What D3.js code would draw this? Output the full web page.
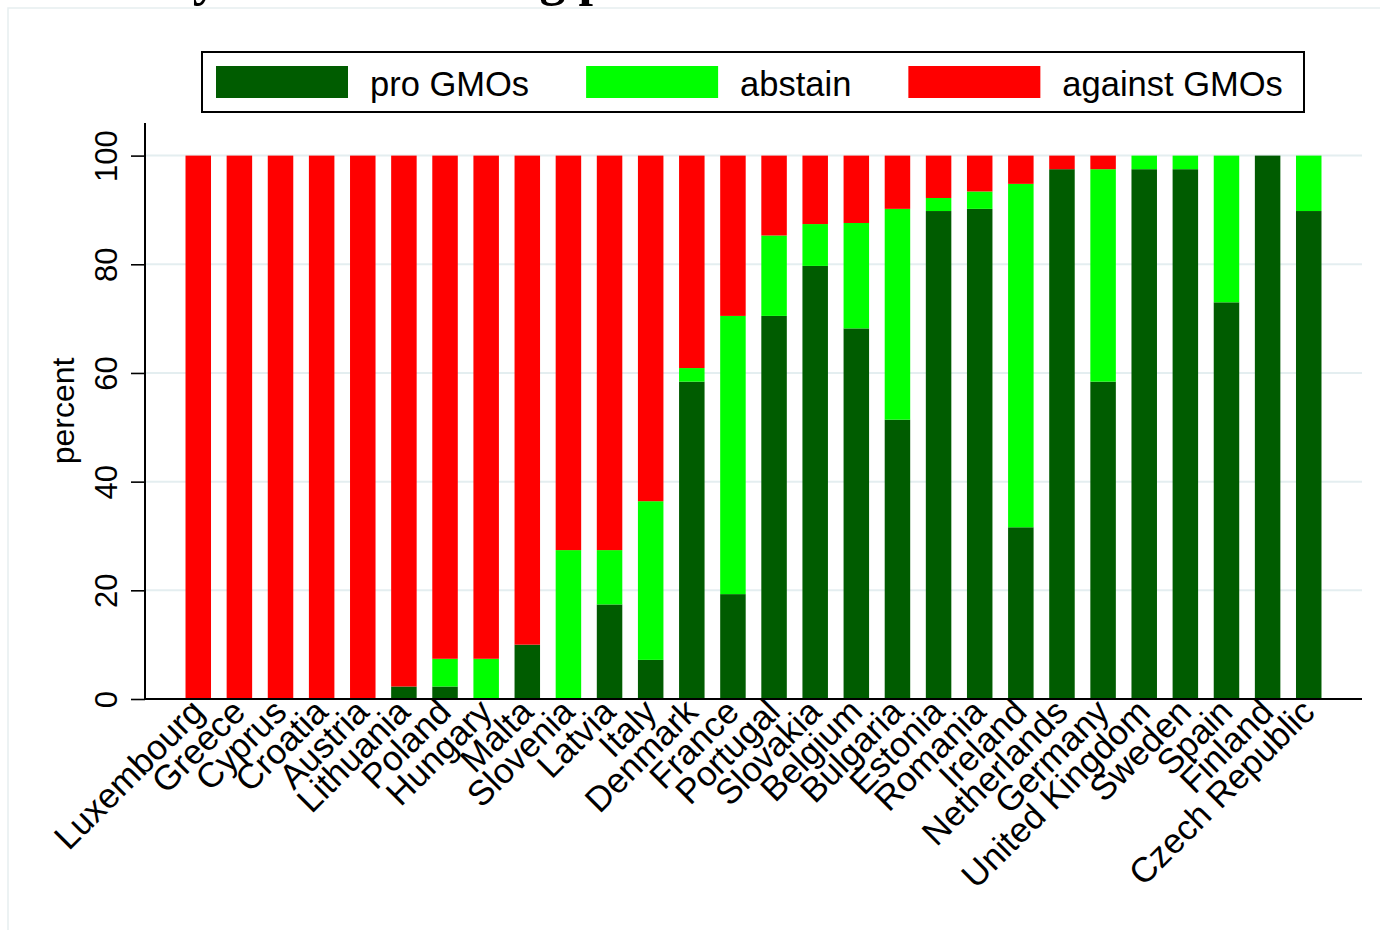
<!DOCTYPE html>
<html>
<head>
<meta charset="utf-8">
<script src="https://cdn.jsdelivr.net/npm/d3@7"></script>
<style>
  body { margin: 0; background: #fff; }
  text { font-family: "Liberation Sans", Arial, sans-serif; }
</style>
</head>
<body>
<svg id="chart" width="1380" height="930"></svg>
<script>
// Countries, in the order shown
const countries = ["Luxembourg", "Greece", "Cyprus", "Croatia", "Austria", "Lithuania", "Poland", "Hungary",
  "Malta", "Slovenia", "Latvia", "Italy", "Denmark", "France", "Portugal", "Slovakia", "Belgium", "Bulgaria",
  "Estonia", "Romania", "Ireland", "Netherlands", "Germany", "United Kingdom", "Sweden", "Spain", "Finland",
  "Czech Republic"];

// Percent of each vote
const proGMOs = [0, 0, 0, 0, 0, 2.3, 2.3, 0, 10.0, 0, 17.4, 7.2, 58.4, 19.3, 70.5, 79.7, 68.2, 51.4,
  89.8, 90.2, 31.6, 97.5, 58.4, 97.5, 97.5, 73.0, 100, 89.8];
const abstain = [0, 0, 0, 0, 0, 0, 5.1, 7.4, 0, 27.4, 10.0, 29.2, 2.5, 51.2, 14.8, 7.7, 19.4, 38.8,
  2.4, 3.2, 63.2, 0, 39.1, 2.5, 2.5, 27.0, 0, 10.2];
const againstGMOs = [100, 100, 100, 100, 100, 97.7, 92.6, 92.6, 90.0, 72.6, 72.6, 63.6, 39.1, 29.5, 14.7, 12.6, 12.4, 9.8,
  7.8, 6.6, 5.2, 2.5, 2.5, 0, 0, 0, 0, 0];

const seriesKeys = ["pro", "abstain", "against"];
const seriesLabels = ["pro GMOs", "abstain", "against GMOs"];
const seriesColors = ["#005c00", "#00ff00", "#ff0000"];
const yTicks = [0, 20, 40, 60, 80, 100];

const rows = countries.map((c, i) => ({country: c, pro: proGMOs[i], abstain: abstain[i], against: againstGMOs[i]}));

const svg = d3.select("#chart");

// outer frame + title (mostly above the visible area)
svg.append("text")
  .attr("x", 18).attr("y", -5)
  .style("font-family", "'Liberation Serif', 'Times New Roman', serif")
  .style("font-weight", "bold").style("font-size", "52px")
  .text("States by national voting pattern");
svg.append("rect")
  .attr("x", 8).attr("y", 8).attr("width", 1400).attr("height", 1000)
  .attr("fill", "none").attr("stroke", "#e6eef0").attr("stroke-width", 1.5);

const plotLeft = 145, plotRight = 1362, plotTop = 123, plotBottom = 699;

const x = d3.scaleBand()
  .domain(countries)
  .range([plotLeft, plotRight])
  .paddingInner(0.38)
  .paddingOuter(0.985);

const y = d3.scaleLinear()
  .domain([0, 106])
  .range([plotBottom, plotTop]);

// gridlines
svg.append("g").selectAll("line")
  .data(yTicks)
  .enter().append("line")
  .attr("x1", plotLeft).attr("x2", plotRight)
  .attr("y1", d => y(d)).attr("y2", d => y(d))
  .attr("stroke", "#e4eef0").attr("stroke-width", 2);

// stacked bars
const stacked = d3.stack().keys(seriesKeys)(rows);
svg.append("g").selectAll("g")
  .data(stacked)
  .enter().append("g")
  .attr("fill", (d, i) => seriesColors[i])
  .selectAll("rect")
  .data(d => d)
  .enter().append("rect")
  .attr("x", d => x(d.data.country))
  .attr("width", x.bandwidth())
  .attr("y", d => y(d[1]))
  .attr("height", d => y(d[0]) - y(d[1]));

// y axis
const yAxis = svg.append("g")
  .attr("transform", `translate(${plotLeft},0)`)
  .call(d3.axisLeft(y).tickValues(yTicks).tickSize(14).tickPadding(0).tickSizeOuter(0));
yAxis.select(".domain").attr("stroke", "#000").attr("stroke-width", 2)
  .attr("d", `M0,${plotTop}V${plotBottom}`);
yAxis.selectAll(".tick line").attr("stroke", "#000").attr("stroke-width", 1.6);
yAxis.selectAll(".tick text")
  .attr("x", 0).attr("y", 0).attr("dy", null)
  .attr("transform", "translate(-28,0) rotate(-90)")
  .attr("text-anchor", "middle")
  .style("font-size", "31px").attr("fill", "#000");

// x axis
const xAxis = svg.append("g")
  .attr("transform", `translate(0,${plotBottom})`)
  .call(d3.axisBottom(x).tickSize(0).tickSizeOuter(0));
xAxis.select(".domain").attr("stroke", "#000").attr("stroke-width", 2)
  .attr("d", `M${plotLeft},0H${plotRight}`);
xAxis.selectAll(".tick text")
  .attr("x", 0).attr("y", 0).attr("dy", null)
  .attr("transform", "translate(8,15) rotate(-45)")
  .attr("text-anchor", "end")
  .style("font-size", "35px").attr("fill", "#000");

// y title
svg.append("text")
  .attr("transform", `translate(74,${(plotTop + plotBottom) / 2}) rotate(-90)`)
  .attr("text-anchor", "middle")
  .style("font-size", "32px")
  .text("percent");

// legend
const legend = svg.append("g");
legend.append("rect")
  .attr("x", 202).attr("y", 52).attr("width", 1102).attr("height", 60)
  .attr("fill", "#fff").attr("stroke", "#000").attr("stroke-width", 2);
let lx = 216;
seriesLabels.forEach((lab, i) => {
  legend.append("rect")
    .attr("x", lx).attr("y", 66).attr("width", 132).attr("height", 32)
    .attr("fill", seriesColors[i]);
  const t = legend.append("text")
    .attr("x", lx + 154).attr("y", 96)
    .style("font-size", "34.5px")
    .text(lab);
  lx += 154 + t.node().getComputedTextLength() + 57;
});
</script>
</body>
</html>
